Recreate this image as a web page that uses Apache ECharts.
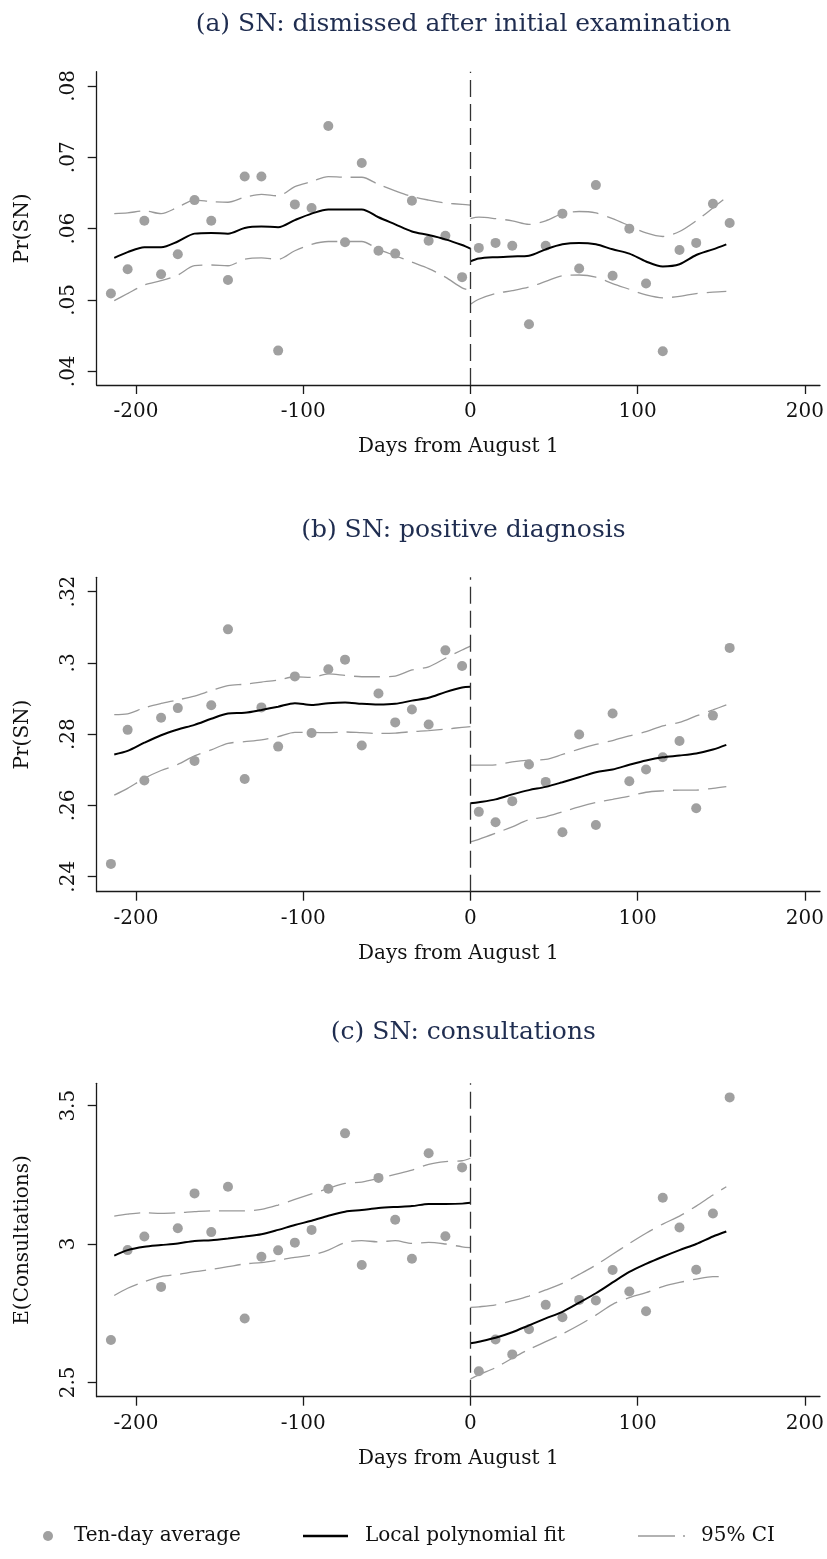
<!DOCTYPE html>
<html>
<head>
<meta charset="utf-8">
<script src="https://cdn.jsdelivr.net/npm/echarts@6/dist/echarts.min.js"></script>
<style>html,body{margin:0;padding:0;background:#fff;}#c{width:827px;height:1559px;}</style>
</head>
<body>
<div id="c"></div>
<script>
// ---- Data ----
const titles = ['(a) SN: dismissed after initial examination', '(b) SN: positive diagnosis', '(c) SN: consultations'];
const yNames = ['Pr(SN)', 'Pr(SN)', 'E(Consultations)'];
const xName = 'Days from August 1';
const xTicks = [-200, -100, 0, 100, 200];
const aYTicks = [0.04, 0.05, 0.06, 0.07, 0.08];
const bYTicks = [0.24, 0.26, 0.28, 0.30, 0.32];
const cYTicks = [2.5, 3, 3.5];

const dotDaysL = [-215,-205,-195,-185,-175,-165,-155,-145,-135,-125,-115,-105,-95,-85,-75,-65,-55,-45,-35,-25,-15,-5];
const dotDaysR = [5,15,25,35,45,55,65,75,85,95,105,115,125,135,145,155];
const fitDaysL = [-213,-205,-195,-185,-175,-165,-155,-145,-135,-125,-115,-105,-95,-85,-75,-65,-55,-45,-35,-25,-15,-5,0];
const fitDaysR = [0,5,15,25,35,45,55,65,75,85,95,105,115,125,135,145,153];

// Panel (a)
const aDotsL = [.0509,.0543,.0611,.0536,.0564,.0640,.0611,.0528,.0673,.0673,.0429,.0634,.0629,.0744,.0581,.0692,.0569,.0565,.0639,.0583,.0590,.0532];
const aDotsR = [.0573,.0580,.0576,.0466,.0576,.0621,.0544,.0661,.0534,.0600,.0523,.0428,.0570,.0580,.0635,.0608];
const aFitL = [.0559,.0567,.0574,.0574,.0582,.0593,.0594,.0593,.0601,.0603,.0602,.0612,.0621,.0627,.0627,.0627,.0616,.0606,.0596,.0591,.0585,.0577,.0572];
const aUpL  = [.0621,.0622,.0625,.0621,.0630,.0640,.0638,.0637,.0644,.0648,.0646,.0659,.0666,.0673,.0672,.0672,.0662,.0653,.0645,.0640,.0636,.0634,.0633];
const aLoL  = [.0499,.0509,.0521,.0527,.0535,.0548,.0549,.0548,.0557,.0559,.0557,.0569,.0578,.0582,.0582,.0582,.0571,.0562,.0553,.0544,.0532,.0517,.0513];
const aFitR = [.0554,.0558,.0560,.0561,.0562,.0571,.0578,.0580,.0578,.0571,.0565,.0554,.0547,.0550,.0563,.0571,.0578];
const aUpR  = [.0614,.0616,.0614,.0611,.0606,.0611,.0621,.0624,.0622,.0614,.0604,.0594,.0589,.0596,.0611,.0629,.0644];
const aLoR  = [.0494,.0501,.0509,.0513,.0518,.0526,.0534,.0535,.0532,.0523,.0515,.0507,.0503,.0505,.0509,.0511,.0512];

// Panel (b)
const bDotsL = [.2436,.2812,.2670,.2846,.2873,.2725,.2881,.3094,.2674,.2875,.2765,.2962,.2803,.2982,.3009,.2768,.2914,.2833,.2869,.2827,.3035,.2991];
const bDotsR = [.2582,.2553,.2612,.2715,.2666,.2525,.2799,.2545,.2858,.2668,.2701,.2735,.2781,.2592,.2852,.3042];
const bFitL = [.2743,.2753,.2776,.2797,.2813,.2826,.2843,.2858,.2860,.2868,.2877,.2887,.2882,.2887,.2889,.2885,.2883,.2885,.2894,.2902,.2918,.2931,.2933];
const bUpL  = [.2855,.2857,.2874,.2886,.2896,.2907,.2922,.2936,.2940,.2946,.2952,.2961,.2959,.2969,.2965,.2961,.2961,.2963,.2980,.2989,.3013,.3036,.3047];
const bLoL  = [.2629,.2648,.2676,.2698,.2715,.2739,.2756,.2774,.2779,.2784,.2793,.2805,.2805,.2804,.2806,.2804,.2802,.2803,.2807,.2810,.2814,.2819,.2821];
const bFitR = [.2606,.2609,.2617,.2631,.2643,.2652,.2665,.2679,.2693,.2701,.2714,.2726,.2735,.2740,.2746,.2757,.2770];
const bUpR  = [.2713,.2713,.2714,.2722,.2727,.2729,.2743,.2758,.2771,.2782,.2795,.2807,.2823,.2833,.2851,.2868,.2882];
const bLoR  = [.2498,.2505,.2522,.2540,.2560,.2568,.2582,.2596,.2608,.2617,.2626,.2637,.2641,.2643,.2643,.2648,.2653];

// Panel (c)
const cDotsL = [2.653,2.978,3.027,2.845,3.057,3.183,3.043,3.207,2.731,2.954,2.977,3.005,3.051,3.200,3.400,2.924,3.239,3.088,2.947,3.328,3.028,3.277];
const cDotsR = [2.540,2.655,2.601,2.692,2.780,2.735,2.798,2.796,2.906,2.828,2.757,3.167,3.060,2.907,3.110,3.530];
const cFitL = [2.958,2.978,2.990,2.996,3.002,3.011,3.014,3.020,3.027,3.035,3.051,3.069,3.084,3.102,3.117,3.123,3.130,3.134,3.137,3.145,3.145,3.146,3.149];
const cUpL  = [3.101,3.108,3.113,3.111,3.113,3.117,3.120,3.120,3.120,3.125,3.141,3.161,3.181,3.201,3.219,3.224,3.237,3.252,3.267,3.288,3.298,3.301,3.310];
const cLoL  = [2.814,2.840,2.864,2.882,2.890,2.900,2.908,2.918,2.928,2.933,2.942,2.952,2.960,2.978,3.005,3.012,3.008,3.012,3.002,3.006,3.000,2.990,2.987];
const cFitR = [2.641,2.647,2.661,2.681,2.706,2.731,2.755,2.788,2.822,2.861,2.899,2.928,2.954,2.978,3.000,3.027,3.045];
const cUpR  = [2.771,2.773,2.780,2.795,2.812,2.834,2.858,2.890,2.924,2.963,3.002,3.039,3.072,3.101,3.137,3.177,3.207];
const cLoR  = [2.512,2.527,2.553,2.587,2.619,2.647,2.675,2.707,2.743,2.782,2.806,2.824,2.846,2.861,2.873,2.882,2.882];

// ---- Layout / styles ----
const FONT = 'DejaVu Serif';
const GRID_LEFT = 96.7, GRID_RIGHT_X = 820;
const gridTops = [71.7, 577.3, 1083.3];
const gridHeights = [313.3, 314.4, 313.4];
const yRanges = [[0.03808, 0.0820], [0.2358, 0.3240], [2.448, 3.581]];
const yTickSets = [aYTicks, bYTicks, cYTicks];
const xRange = [-223.5, 209];
const titleTops = [7, 513, 1015];

const panels = [
  {dL:aDotsL,dR:aDotsR,fL:aFitL,uL:aUpL,lL:aLoL,fR:aFitR,uR:aUpR,lR:aLoR},
  {dL:bDotsL,dR:bDotsR,fL:bFitL,uL:bUpL,lL:bLoL,fR:bFitR,uR:bUpR,lR:bLoR},
  {dL:cDotsL,dR:cDotsR,fL:cFitL,uL:cUpL,lL:cLoL,fR:cFitR,uR:cUpR,lR:cLoR}
];

const zip = (xs, ys) => xs.map((x, i) => [x, ys[i]]);
const fmtY = v => String(+v.toFixed(4)).replace(/^0\./, '.').replace(/^-0\./, '-.');

const axisColor = '#1a1a1a';
const DOT = '#a0a0a0', FIT = '#000000', CI = '#999999';
const CI_DASH = [26, 9];

const grid = [], xAxis = [], yAxis = [], series = [], title = [];
panels.forEach((p, k) => {
  grid.push({left: GRID_LEFT, top: gridTops[k], width: GRID_RIGHT_X - GRID_LEFT, height: gridHeights[k]});
  title.push({text: titles[k], left: (GRID_LEFT + GRID_RIGHT_X) / 2, top: titleTops[k], textAlign: 'center',
    textStyle: {fontFamily: FONT, fontSize: 25, fontWeight: 'normal', color: '#1f2d50'}});
  xAxis.push({type: 'value', gridIndex: k, min: xRange[0], max: xRange[1],
    name: xName, nameLocation: 'middle', nameGap: 52,
    nameTextStyle: {fontFamily: FONT, fontSize: 20, color: '#111'},
    axisLine: {onZero: false, lineStyle: {color: axisColor, width: 1.3}},
    axisTick: {show: true, length: 9, customValues: xTicks, lineStyle: {color: axisColor, width: 1.3}},
    axisLabel: {customValues: xTicks, margin: 17, fontFamily: FONT, fontSize: 20, color: '#111'},
    splitLine: {show: false}});
  yAxis.push({type: 'value', gridIndex: k, min: yRanges[k][0], max: yRanges[k][1],
    name: yNames[k], nameLocation: 'middle', nameGap: 64, nameRotate: 90,
    nameTextStyle: {fontFamily: FONT, fontSize: 20, color: '#111'},
    axisLine: {show: true, onZero: false, lineStyle: {color: axisColor, width: 1.3}},
    axisTick: {show: true, length: 9, customValues: yTickSets[k], lineStyle: {color: axisColor, width: 1.3}},
    axisLabel: {customValues: yTickSets[k], rotate: 90, margin: 18, formatter: fmtY, fontFamily: FONT, fontSize: 20, color: '#111'},
    splitLine: {show: false}});

  series.push({name: 'Ten-day average', type: 'scatter', xAxisIndex: k, yAxisIndex: k,
    data: zip(dotDaysL, p.dL).concat(zip(dotDaysR, p.dR)), symbol: 'circle', symbolSize: 10,
    itemStyle: {color: DOT, opacity: 1}, z: 3,
    markLine: {silent: true, symbol: ['none', 'none'], label: {show: false},
      lineStyle: {color: '#333', width: 1.3, type: [17, 7]}, data: [{xAxis: 0}], animation: false}});
  const lineDefs = [
    ['Local polynomial fit', fitDaysL, p.fL, FIT, 2, 'solid', 4],
    ['Local polynomial fit', fitDaysR, p.fR, FIT, 2, 'solid', 4],
    ['95% CI', fitDaysL, p.uL, CI, 1.3, CI_DASH, 2],
    ['95% CI', fitDaysL, p.lL, CI, 1.3, CI_DASH, 2],
    ['95% CI', fitDaysR, p.uR, CI, 1.3, CI_DASH, 2],
    ['95% CI', fitDaysR, p.lR, CI, 1.3, CI_DASH, 2]
  ];
  lineDefs.forEach(d => {
    series.push({name: d[0], type: 'line', xAxisIndex: k, yAxisIndex: k, data: zip(d[1], d[2]),
      symbol: 'none', smooth: 0.3, lineStyle: {color: d[3], width: d[4], type: d[5]},
      itemStyle: {color: d[3], borderWidth: 0}, z: d[6]});
  });
});

const legTxt = {fontFamily: FONT, fontSize: 20, color: '#111'};
const legend = [
  {data: [{name: 'Ten-day average', icon: 'circle'}], left: 38, top: 1521, itemWidth: 42, itemHeight: 10,
    textStyle: legTxt, selectedMode: false},
  {data: [{name: 'Local polynomial fit', icon: 'path://M0,0H45V2.5H0Z', itemStyle: {color: FIT, borderWidth: 0}}],
    left: 298, top: 1521, itemWidth: 45, itemHeight: 2.5,
    textStyle: Object.assign({padding: [0,0,0,12]}, legTxt), selectedMode: false},
  {data: [{name: '95% CI', icon: 'path://M0,0H37V1.3H0Z M45,0H47V1.3H45Z', itemStyle: {color: CI, borderWidth: 0}}],
    left: 633, top: 1521, itemWidth: 47, itemHeight: 1.3,
    textStyle: Object.assign({padding: [0,0,0,11]}, legTxt), selectedMode: false}
];

const chart = echarts.init(document.getElementById('c'), null, {renderer: 'canvas'});
chart.setOption({animation: false, backgroundColor: '#fff', title, grid, xAxis, yAxis, series, legend});
</script>
</body>
</html>
